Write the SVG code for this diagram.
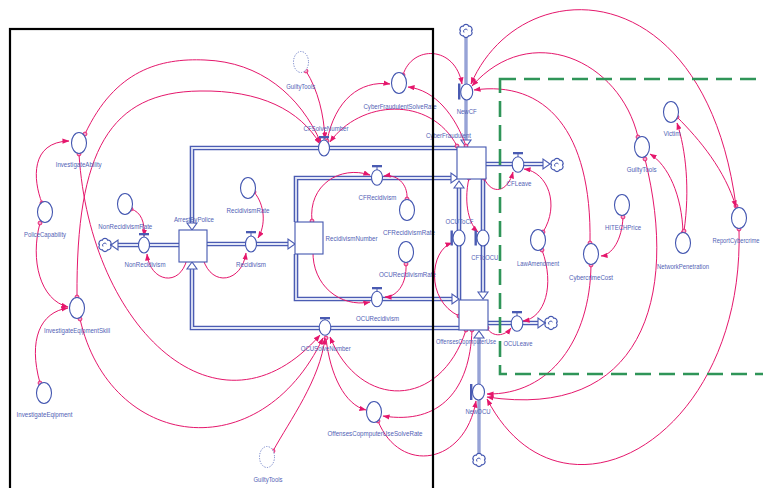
<svg xmlns="http://www.w3.org/2000/svg" xmlns:xlink="http://www.w3.org/1999/xlink" width="763" height="488" viewBox="0 0 763 488">
<style>
.aux{fill:#fff;stroke:#4356b0;stroke-width:1.1}
.ghost{fill:#fff;stroke:#6f7fc8;stroke-width:1;stroke-dasharray:1.2 1.4}
.stock{fill:#fff;stroke:#4356b0;stroke-width:1.1}
.valve{fill:#fff;stroke:#4356b0;stroke-width:1.1}
.cap{fill:#4a5bb2}
.lbl{font-family:"Liberation Sans",Arial,sans-serif;font-size:7.5px;fill:#5262b5;text-anchor:middle}
.sm{font-size:6.4px}
.c{fill:none;stroke:#e5176c;stroke-width:1;marker-start:url(#o);marker-end:url(#a)}
.po{fill:none;stroke:#4b5cb3;stroke-width:4.6}
.pi{fill:none;stroke:#e2e6f6;stroke-width:1.8}
.pl{fill:none;stroke:#97a3d6;stroke-width:3.4}
.ah{fill:#fff;stroke:#4b5cb3;stroke-width:1.1}
.cl{fill:#fff;stroke:#4356b0;stroke-width:1.2}
</style>
<defs>
<marker id="a" viewBox="0 0 8 6" refX="7.5" refY="3" markerWidth="7" markerHeight="5.5" orient="auto" markerUnits="userSpaceOnUse"><path d="M0,0 L8,3 L0,6 z" fill="#e5176c"/></marker>
<marker id="o" viewBox="0 0 6 6" refX="3" refY="3" markerWidth="5.5" markerHeight="5.5" markerUnits="userSpaceOnUse"><circle cx="3" cy="3" r="2.1" fill="#f7a6c8" stroke="#e5176c" stroke-width="1"/></marker>
<g id="cloud"><path class="cl" d="M5.5,0 A3,3 0 0 1 2.75,4.76 A3,3 0 0 1 -2.75,4.76 A3,3 0 0 1 -5.5,0 A3,3 0 0 1 -2.75,-4.76 A3,3 0 0 1 2.75,-4.76 A3,3 0 0 1 5.5,0 Z"/><path d="M-2,1.5 A2,2 0 1 1 1.5,-1" fill="none" stroke="#4356b0" stroke-width="1"/></g>
<path id="p1" d="M457,148 H192 V224"/>
<path id="p2" d="M459,328 H192 V268"/>
<path id="p3" d="M179,245 H117"/>
<path id="p4" d="M207,244 H289"/>
<path id="p5" d="M296,222 V178 H451"/>
<path id="p6" d="M296,254 V299 H452"/>
<path id="p7" d="M486,164 H544"/>
<path id="p8" d="M488,323 H539"/>
<path id="p9" d="M459,300 V187"/>
<path id="p10" d="M483,179 V293"/>
</defs>
<rect width="763" height="488" fill="#fff"/>

<g id="pipes">
<use href="#p1" class="po"/><use href="#p2" class="po"/><use href="#p3" class="po"/><use href="#p4" class="po"/><use href="#p5" class="po"/><use href="#p6" class="po"/><use href="#p7" class="po"/><use href="#p8" class="po"/><use href="#p9" class="po"/><use href="#p10" class="po"/>
<use href="#p1" class="pi"/><use href="#p2" class="pi"/><use href="#p3" class="pi"/><use href="#p4" class="pi"/><use href="#p5" class="pi"/><use href="#p6" class="pi"/><use href="#p7" class="pi"/><use href="#p8" class="pi"/><use href="#p9" class="pi"/><use href="#p10" class="pi"/>
<path class="pl" d="M466,37 V141"/>
<path class="pl" d="M479,454 V337"/>
<polygon class="ah" points="192,230 187,223 197,223"/>
<polygon class="ah" points="192,262 187,269 197,269"/>
<polygon class="ah" points="111,245 118,240 118,250"/>
<polygon class="ah" points="295,244 288,239 288,249"/>
<polygon class="ah" points="458,178 451,173 451,183"/>
<polygon class="ah" points="459,299 452,294 452,304"/>
<polygon class="ah" points="550,164 543,159 543,169"/>
<polygon class="ah" points="545,323 538,318 538,328"/>
<polygon class="ah" points="459,181 454,188 464,188"/>
<polygon class="ah" points="483,299 478,292 488,292"/>
<polygon class="ah" points="466,147 461,140 471,140"/>
<polygon class="ah" points="479,331 474,338 484,338"/>
<use href="#cloud" x="105" y="245"/>
<use href="#cloud" x="466" y="31"/>
<use href="#cloud" x="557" y="165"/>
<use href="#cloud" x="551" y="323"/>
<use href="#cloud" x="479" y="460"/>
</g>

<g id="connectors">
<path class="c" d="M42,203 C33,180 30,142 69,141"/>
<path class="c" d="M40,223 C30,260 40,300 68,307"/>
<path class="c" d="M40,383 C28,340 40,312 68,308"/>
<path class="c" d="M85,134 C115,70 160,58 205,60 C260,62 300,95 321,143"/>
<path class="c" d="M77,297 C76,150 110,92 200,91 C260,90 300,110 320,144"/>
<path class="c" d="M79,154 C90,330 220,450 320,335"/>
<path class="c" d="M80,319 C110,450 260,470 323,338"/>
<path class="c" d="M306,71 C318,90 324,115 325,139"/>
<path class="c" d="M457,146 C430,95 360,100 330,142"/>
<path class="c" d="M466,146 C455,115 435,90 408,87"/>
<path class="c" d="M327,141 C335,100 360,80 390,84"/>
<path class="c" d="M403,75 C412,45 455,45 462,84"/>
<path class="c" d="M736,206 C705,-30 520,-30 471,84"/>
<path class="c" d="M638,137 C620,60 530,20 472,86"/>
<path class="c" d="M590,243 C592,130 545,80 474,90"/>
<path class="c" d="M591,265 C590,340 550,395 487,394"/>
<path class="c" d="M645,159 C680,300 640,420 487,397"/>
<path class="c" d="M739,229 C745,440 560,540 487,399"/>
<path class="c" d="M378,421 C400,475 465,465 476,401"/>
<path class="c" d="M466,330 C440,410 360,410 330,337"/>
<path class="c" d="M472,330 C470,390 440,425 383,416"/>
<path class="c" d="M326,338 C330,375 345,405 366,410"/>
<path class="c" d="M273,451 C290,420 320,380 325,338"/>
<path class="c" d="M131,209 C141,212 145,222 144,236"/>
<path class="c" d="M187,259 C180,288 150,282 147,254"/>
<path class="c" d="M203,259 C212,288 242,282 246,253"/>
<path class="c" d="M254,192 C265,205 266,225 258,238"/>
<path class="c" d="M312,221 C308,185 340,165 370,175"/>
<path class="c" d="M407,199 C408,183 396,174 384,176"/>
<path class="c" d="M313,251 C312,285 340,308 370,302"/>
<path class="c" d="M406,264 C407,285 396,297 385,297"/>
<path class="c" d="M469,178 C463,205 470,225 478,232"/>
<path class="c" d="M484,178 C492,196 508,192 513,172"/>
<path class="c" d="M459,316 C425,300 430,250 452,243"/>
<path class="c" d="M487,328 C493,338 505,336 511,328"/>
<path class="c" d="M543,232 C560,205 548,172 524,169"/>
<path class="c" d="M542,250 C555,285 545,318 523,321"/>
<path class="c" d="M623,217 C622,240 612,255 601,256"/>
<path class="c" d="M683,233 C682,195 668,165 650,154"/>
<path class="c" d="M684,231 C690,190 686,150 677,123"/>
<path class="c" d="M677,117 C700,140 725,170 736,207"/>
</g>

<g id="ArrestByPolice"><rect class="stock" x="179" y="230" width="28" height="32"/><text class="lbl" x="194" y="221.5" textLength="40" lengthAdjust="spacingAndGlyphs">ArrestByPolice</text></g>
<g id="RecidivismNumber"><rect class="stock" x="295" y="222" width="28" height="32"/><text class="lbl" x="351.5" y="240.5" textLength="52" lengthAdjust="spacingAndGlyphs">RecidivismNumber</text></g>
<g id="CyberFraudulent"><rect class="stock" x="457" y="147" width="29" height="32"/><text class="lbl" x="448.5" y="138" textLength="45" lengthAdjust="spacingAndGlyphs">CyberFraudulent</text></g>
<g id="OffensesCopmputerUse"><rect class="stock" x="459" y="300" width="29" height="30"/><text class="lbl sm" x="466" y="343.5" textLength="60" lengthAdjust="spacingAndGlyphs">OffensesCopmputerUse</text></g>

<g id="NonRecidivism"><rect class="cap" x="139" y="233" width="10" height="2.3"/><path d="M144,235 V237" stroke="#4a5bb2"/><ellipse class="valve" cx="144" cy="245" rx="5.5" ry="8"/><text class="lbl" x="145" y="267" textLength="41" lengthAdjust="spacingAndGlyphs">NonRecidivism</text></g>
<g id="Recidivism"><rect class="cap" x="246" y="231" width="10" height="2.3"/><path d="M251,233 V236" stroke="#4a5bb2"/><ellipse class="valve" cx="251" cy="244" rx="5.5" ry="8"/><text class="lbl" x="251" y="266.5" textLength="30" lengthAdjust="spacingAndGlyphs">Recidivism</text></g>
<g id="CFSolveNumber"><rect class="cap" x="319" y="136" width="10" height="2.3"/><path d="M324,138 V141" stroke="#4a5bb2"/><ellipse class="valve" cx="324" cy="148" rx="5.5" ry="8"/><text class="lbl" x="326" y="130.5" textLength="45" lengthAdjust="spacingAndGlyphs">CFSolveNumber</text></g>
<g id="CFRecidivism"><rect class="cap" x="372" y="165" width="10" height="2.3"/><path d="M377,167 V170" stroke="#4a5bb2"/><ellipse class="valve" cx="377" cy="177.5" rx="5.5" ry="7.8"/><text class="lbl" x="377.5" y="199.5" textLength="38" lengthAdjust="spacingAndGlyphs">CFRecidivism</text></g>
<g id="OCURecidivism"><rect class="cap" x="372" y="287" width="10" height="2.3"/><path d="M377,289 V292" stroke="#4a5bb2"/><ellipse class="valve" cx="377" cy="299" rx="5.5" ry="7.8"/><text class="lbl" x="377.5" y="320.5" textLength="43" lengthAdjust="spacingAndGlyphs">OCURecidivism</text></g>
<g id="OCUSolveNumber"><rect class="cap" x="320" y="317" width="10" height="2.3"/><path d="M325,319 V320" stroke="#4a5bb2"/><ellipse class="valve" cx="325" cy="327.5" rx="5.8" ry="7.8"/><text class="lbl" x="325.7" y="350.5" textLength="50" lengthAdjust="spacingAndGlyphs">OCUSolveNumber</text></g>
<g id="CFLeave"><rect class="cap" x="513" y="152" width="10" height="2.3"/><path d="M518,154 V157" stroke="#4a5bb2"/><ellipse class="valve" cx="518" cy="164.5" rx="5.8" ry="7.8"/><text class="lbl" x="519" y="185.5" textLength="25" lengthAdjust="spacingAndGlyphs">CFLeave</text></g>
<g id="OCULeave"><rect class="cap" x="512" y="311" width="10" height="2.3"/><path d="M517,313 V316" stroke="#4a5bb2"/><ellipse class="valve" cx="517" cy="323.5" rx="5.8" ry="7.8"/><text class="lbl sm" x="518" y="345.5" textLength="29" lengthAdjust="spacingAndGlyphs">OCULeave</text></g>
<g id="NewCF"><rect class="cap" x="458" y="83.5" width="2.4" height="16"/><ellipse class="valve" cx="466.7" cy="92" rx="6" ry="8"/><text class="lbl" x="466.7" y="113.5" textLength="20" lengthAdjust="spacingAndGlyphs">NewCF</text></g>
<g id="NewOCU"><rect class="cap" x="470" y="384" width="2.4" height="16"/><ellipse class="valve" cx="478.5" cy="392" rx="6" ry="8"/><text class="lbl" x="478" y="413.5" textLength="25" lengthAdjust="spacingAndGlyphs">NewOCU</text></g>
<g id="OCUToCF"><rect class="cap" x="450.5" y="230.5" width="2.4" height="15"/><ellipse class="valve" cx="459" cy="238" rx="6" ry="8"/><text class="lbl" x="459.5" y="223.5" textLength="28" lengthAdjust="spacingAndGlyphs">OCUToCF</text></g>
<g id="CFToOCU"><rect class="cap" x="474.5" y="230.5" width="2.4" height="15"/><ellipse class="valve" cx="483" cy="238" rx="6" ry="8"/><text class="lbl" x="484.7" y="259.5" textLength="27" lengthAdjust="spacingAndGlyphs">CFToOCU</text></g>

<g id="InvestigateAbility"><ellipse class="aux" cx="79" cy="143" rx="7.5" ry="10.5"/><text class="lbl" x="78.7" y="167" textLength="46" lengthAdjust="spacingAndGlyphs">InvestigateAbility</text></g>
<g id="PoliceCapability"><ellipse class="aux" cx="45" cy="212" rx="7.5" ry="10.5"/><text class="lbl" x="45" y="236.5" textLength="42" lengthAdjust="spacingAndGlyphs">PoliceCapability</text></g>
<g id="NonRecidivismRate"><ellipse class="aux" cx="125" cy="204" rx="7.5" ry="10.5"/><text class="lbl" x="125.3" y="228.5" textLength="54" lengthAdjust="spacingAndGlyphs">NonRecidivismRate</text></g>
<g id="RecidivismRate"><ellipse class="aux" cx="248" cy="188" rx="7.5" ry="10.5"/><text class="lbl" x="248" y="212.5" textLength="43" lengthAdjust="spacingAndGlyphs">RecidivismRate</text></g>
<g id="InvestigateEqipmentSkill"><ellipse class="aux" cx="77" cy="308" rx="7.5" ry="10.5"/><text class="lbl" x="77" y="332.5" textLength="66" lengthAdjust="spacingAndGlyphs">InvestigateEqipmentSkill</text></g>
<g id="InvestigateEqipment"><ellipse class="aux" cx="44" cy="393" rx="7.5" ry="10.5"/><text class="lbl" x="44.5" y="416.5" textLength="56" lengthAdjust="spacingAndGlyphs">InvestigateEqipment</text></g>
<g id="GuiltyToolsTop"><ellipse class="ghost" cx="301" cy="62" rx="7.5" ry="10.5"/><text class="lbl" x="300.7" y="88.5" textLength="29" lengthAdjust="spacingAndGlyphs">GuiltyTools</text></g>
<g id="CyberFraudulentSolveRate"><ellipse class="aux" cx="399" cy="83" rx="7.5" ry="10.5"/><text class="lbl" x="400" y="109" textLength="73" lengthAdjust="spacingAndGlyphs">CyberFraudulentSolveRate</text></g>
<g id="CFRecidivismRate"><ellipse class="aux" cx="407" cy="210" rx="7.5" ry="10.5"/><text class="lbl" x="409" y="234.5" textLength="52" lengthAdjust="spacingAndGlyphs">CFRecidivismRate</text></g>
<g id="OCURecidivismRate"><ellipse class="aux" cx="406" cy="252" rx="7.5" ry="10.5"/><text class="lbl" x="407.5" y="276.5" textLength="57" lengthAdjust="spacingAndGlyphs">OCURecidivismRate</text></g>
<g id="OffensesCopmputerUseSolveRate"><ellipse class="aux" cx="374" cy="412" rx="7.5" ry="10.5"/><text class="lbl" x="375" y="435.5" textLength="95" lengthAdjust="spacingAndGlyphs">OffensesCopmputerUseSolveRate</text></g>
<g id="GuiltyToolsBottom"><ellipse class="ghost" cx="267" cy="457" rx="7.5" ry="10.5"/><text class="lbl" x="268" y="481.5" textLength="29" lengthAdjust="spacingAndGlyphs">GuiltyTools</text></g>
<g id="LawAmendment"><ellipse class="aux" cx="538" cy="240" rx="7.5" ry="10.5"/><text class="lbl" x="538" y="265.5" textLength="42" lengthAdjust="spacingAndGlyphs">LawAmendment</text></g>
<g id="CybercrimeCost"><ellipse class="aux" cx="591" cy="254" rx="7.5" ry="10.5"/><text class="lbl" x="591" y="279.5" textLength="44" lengthAdjust="spacingAndGlyphs">CybercrimeCost</text></g>
<g id="HITECHPrice"><ellipse class="aux" cx="622" cy="205" rx="7.5" ry="10.5"/><text class="lbl" x="623" y="229.5" textLength="36" lengthAdjust="spacingAndGlyphs">HITECHPrice</text></g>
<g id="GuiltyTools"><ellipse class="aux" cx="642" cy="147" rx="7.5" ry="10.5"/><text class="lbl" x="641.7" y="171.5" textLength="30" lengthAdjust="spacingAndGlyphs">GuiltyTools</text></g>
<g id="Victim"><ellipse class="aux" cx="671" cy="112" rx="7.5" ry="10.5"/><text class="lbl" x="672" y="135.5" textLength="17" lengthAdjust="spacingAndGlyphs">Victim</text></g>
<g id="NetworkPenetration"><ellipse class="aux" cx="683" cy="243" rx="7.5" ry="10.5"/><text class="lbl" x="683" y="268.5" textLength="52" lengthAdjust="spacingAndGlyphs">NetworkPenetration</text></g>
<g id="ReportCybercrime"><ellipse class="aux" cx="739" cy="218" rx="7.5" ry="10.5"/><text class="lbl sm" x="736" y="242.5" textLength="47" lengthAdjust="spacingAndGlyphs">ReportCybercrime</text></g>

<g id="frames">
<rect x="10" y="29" width="423" height="475" fill="none" stroke="#000" stroke-width="2.2"/>
<rect x="500" y="79" width="300" height="295" fill="none" stroke="#2f9558" stroke-width="2.6" stroke-dasharray="16 8"/>
</g>
</svg>
